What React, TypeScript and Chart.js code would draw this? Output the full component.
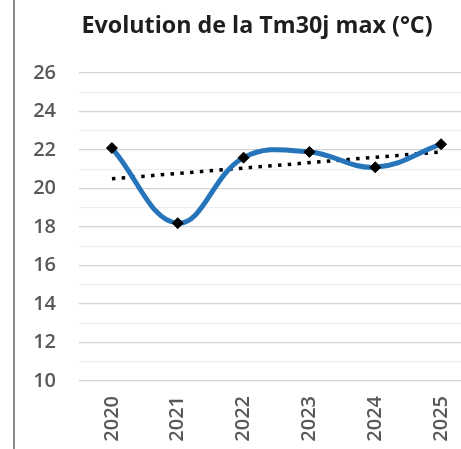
import React, { useEffect, useRef } from "react";
import { Chart, registerables } from "chart.js";

Chart.register(...registerables);

const years: string[] = ["2020", "2021", "2022", "2023", "2024", "2025"];
const tm30jMax: number[] = [22.1, 18.2, 21.6, 21.9, 21.1, 22.3];
// linear trend line end points
const trendValues: (number | null)[] = [20.5, null, null, null, null, 21.9];
const yMin = 10;
const yMax = 26;
const yStep = 1;
const titleText = "Evolution de la Tm30j max (°C)";

const FONT = "'Open Sans', 'Noto Sans', sans-serif";

export default function App() {
  const canvasRef = useRef<HTMLCanvasElement | null>(null);

  useEffect(() => {
    const canvas = canvasRef.current;
    if (!canvas) return;
    const chart = new Chart(canvas, {
      type: "line",
      data: {
        labels: years,
        datasets: [
          {
            label: "Tm30j max",
            data: tm30jMax,
            borderColor: "#2674BA",
            borderWidth: 5,
            tension: 0.4,
            pointStyle: "rectRot",
            pointRadius: 5.5,
            pointBackgroundColor: "#000000",
            pointBorderColor: "#000000",
            pointBorderWidth: 1,
            fill: false,
            order: 1,
          },
          {
            label: "Tendance",
            data: trendValues,
            spanGaps: true,
            borderColor: "#000000",
            borderWidth: 3.5,
            borderDash: [3.5, 6.3],
            pointRadius: 0,
            tension: 0,
            fill: false,
            order: 2,
          },
        ],
      },
      options: {
        responsive: false,
        animation: false,
        layout: { padding: { left: 0, right: 0, top: 0, bottom: 0 } },
        plugins: {
          legend: { display: false },
          tooltip: { enabled: false },
          title: {
            display: true,
            text: titleText,
            color: "#1e1e1e",
            font: { family: FONT, size: 23.3, weight: "bold" },
            padding: { top: 12, bottom: 33 },
          },
        },
        scales: {
          x: {
            offset: true,
            grid: { display: false, drawTicks: false },
            border: { display: false },
            ticks: {
              color: "#595959",
              font: { family: FONT, size: 20, weight: "600" },
              minRotation: 90,
              maxRotation: 90,
              padding: 15,
              autoSkip: false,
            },
            afterFit: (scale: any) => {
              scale.height = 68;
            },
          },
          y: {
            min: yMin,
            max: yMax,
            grid: {
              drawTicks: false,
              color: (ctx: any) =>
                ctx.tick && ctx.tick.value % 2 === 0 ? "#d4d4d4" : "#eeeeee",
              lineWidth: 1.2,
            },
            border: { display: false },
            ticks: {
              stepSize: yStep,
              autoSkip: false,
              color: "#595959",
              font: { family: FONT, size: 20, weight: "600" },
              padding: 23,
              callback: (v: any) => (Number(v) % 2 === 0 ? String(v) : ""),
            },
            afterFit: (scale: any) => {
              scale.width = 64;
            },
          },
          yPad: {
            position: "right",
            min: yMin,
            max: yMax,
            grid: { display: false, drawTicks: false },
            border: { display: false },
            ticks: { display: false },
            afterFit: (scale: any) => {
              scale.width = 25;
            },
          },
        },
      },
    });
    return () => chart.destroy();
  }, []);

  return (
    <div
      style={{
        position: "fixed",
        left: 0,
        top: 0,
        width: 461,
        height: 449,
        overflow: "hidden",
        background: "#ffffff",
      }}
    >
      <div
        style={{
          position: "absolute",
          left: 13,
          top: 0,
          width: 2,
          height: 449,
          background: "#8a8a8a",
        }}
      />
      <canvas
        ref={canvasRef}
        width={484}
        height={449}
        style={{ position: "absolute", left: 15, top: 0, width: 484, height: 449 }}
      />
    </div>
  );
}
